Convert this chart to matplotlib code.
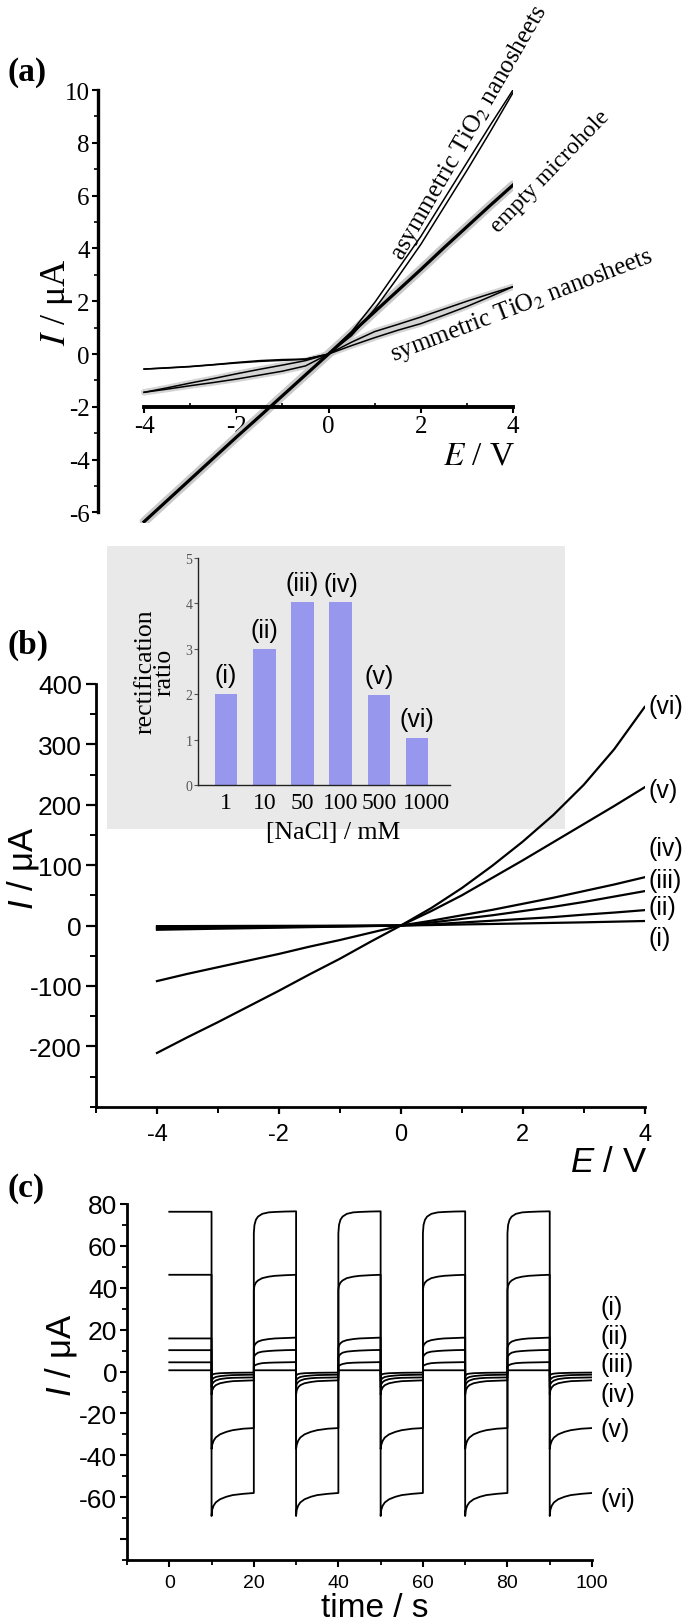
import matplotlib
matplotlib.use("Agg")
import matplotlib.pyplot as plt
from matplotlib.patches import Rectangle
from matplotlib.ticker import MultipleLocator
from matplotlib.transforms import ScaledTranslation

W, H, DPI = 685, 1624, 100
SERIF = "Liberation Serif"
SANS = "Liberation Sans"

plt.rcParams["font.family"] = SANS
plt.rcParams["axes.unicode_minus"] = False
plt.rcParams["mathtext.fontset"] = "custom"
plt.rcParams["mathtext.rm"] = SANS
plt.rcParams["mathtext.it"] = SANS + ":italic"

# ---------------- panel (a): microhole I-E curves ----------------
E_A = [-4, -3.5, -3, -2.5, -2, -1.5, -1, -0.5, 0, 0.5, 1, 1.5, 2, 2.5, 3, 3.5, 4]
I_EMPTY = [-6.35, -5.55, -4.75, -3.95, -3.15, -2.37, -1.58, -0.79, 0,
           0.8, 1.6, 2.4, 3.2, 4.02, 4.82, 5.62, 6.4]
I_ASYM_FWD = [-0.57, -0.52, -0.47, -0.4, -0.32, -0.25, -0.21, -0.19, 0,
              0.85, 1.95, 3.2, 4.45, 5.85, 7.25, 8.65, 10.0]
I_ASYM_REV = [-0.57, -0.53, -0.48, -0.41, -0.34, -0.28, -0.24, -0.2, 0,
              0.7, 1.7, 2.9, 4.15, 5.55, 6.95, 8.4, 9.9]
I_SYM_FWD = [-1.45, -1.28, -1.1, -0.93, -0.75, -0.58, -0.42, -0.25, 0,
             0.45, 0.85, 1.12, 1.4, 1.7, 2.0, 2.28, 2.55]
I_SYM_REV = [-1.45, -1.33, -1.2, -1.08, -0.95, -0.8, -0.65, -0.45, 0,
             0.32, 0.62, 0.9, 1.15, 1.47, 1.8, 2.17, 2.55]

# ---------------- panel (b): I-E curves at six NaCl concentrations ----------------
E_B = [-4, -3.5, -3, -2.5, -2, -1.5, -1, -0.5, 0, 0.5, 1, 1.5, 2, 2.5, 3, 3.5, 4]
I_B_I = [-1, -0.9, -0.75, -0.6, -0.5, -0.4, -0.25, -0.1, 0, 0.8, 1.8, 2.6, 3.5, 4.4, 5.3, 6.4, 7.5]
I_B_II = [-3, -2.6, -2.25, -1.9, -1.5, -1.1, -0.75, -0.4, 0, 2, 5, 8, 11, 14, 18, 21.5, 25.5]
I_B_III = [-5, -4.4, -3.75, -3.1, -2.5, -1.9, -1.25, -0.6, 0, 5, 11, 17, 24, 31, 39, 48, 57]
I_B_IV = [-7, -6.1, -5.2, -4.4, -3.5, -2.6, -1.75, -0.9, 0, 8, 17, 26, 36, 46, 57, 68, 80]
I_B_V = [-92, -80, -69, -58, -47, -35, -24, -12, 0, 24, 50, 79, 108, 138, 168, 198, 229]
I_B_VI = [-211, -185, -160, -134, -108, -81, -55, -27, 0, 29, 62, 99, 139, 183, 233, 292, 362]
CURVE_NAMES = ["(i)", "(ii)", "(iii)", "(iv)", "(v)", "(vi)"]
B_LABEL_Y = [-20, 30, 76, 129, 225, 363]

# inset: rectification ratio vs [NaCl]
NACL_MM = ["1", "10", "50", "100", "500", "1000"]
RATIO = [2.0, 3.0, 4.03, 4.02, 1.98, 1.03]

# ---------------- panel (c): current response to +/- voltage steps ----------------
SEG_DT = [0, 0.15, 0.5, 1, 2, 3.5, 5, 7.5, 10]      # time offsets inside one 10 s step
FIRST_LEVEL = [0.6, 4.4, 10.2, 15.8, 46.2, 76.3]    # first (0-10 s) plateau
POS_I = [0.6, 0.6, 0.6, 0.6, 0.6, 0.6, 0.6, 0.6, 0.6]
POS_II = [2.3, 2.8, 3.2, 3.6, 4.0, 4.2, 4.3, 4.4, 4.5]
POS_III = [6.5, 7.5, 8.3, 9.0, 9.5, 9.8, 10.0, 10.2, 10.3]
POS_IV = [11, 12.5, 13.5, 14.3, 15, 15.5, 15.8, 16, 16.2]
POS_V = [39, 41, 42.5, 43.5, 44.6, 45.3, 45.7, 46, 46.2]
POS_VI = [66, 70, 72.5, 74, 75.3, 76, 76.2, 76.4, 76.5]
NEG_I = [-2.2, -1.6, -1.2, -1.0, -0.8, -0.7, -0.6, -0.55, -0.5]
NEG_II = [-4.6, -3.8, -3.1, -2.6, -2.2, -1.9, -1.7, -1.6, -1.5]
NEG_III = [-7.5, -6, -5, -4.3, -3.6, -3.2, -3.0, -2.9, -2.8]
NEG_IV = [-11, -9, -7.5, -6.5, -5.6, -5.0, -4.6, -4.4, -4.2]
NEG_V = [-37, -35, -33, -31.5, -30, -28.8, -28, -27.3, -27]
NEG_VI = [-69, -66, -64, -62.5, -61, -59.8, -59, -58.4, -58]
C_LABEL_Y = [30.8, 17.1, 3.6, -10.7, -27.4, -60.9]


def rect(x0, x1, y0, y1):
    return [x0 / W, 1 - y1 / H, (x1 - x0) / W, (y1 - y0) / H]


def fpt(x, y):
    return x / W, 1 - y / H


def step_trace(first, pos, neg):
    # five +/- cycles of 20 s, the measured step shape repeated each cycle
    t, y = [0.0, 10.0], [first, first]
    for k in range(5):
        t0 = 10 + 20 * k
        t += [t0 + d for d in SEG_DT]
        y += neg
        if k < 4:
            t += [t0 + 10 + d for d in SEG_DT]
            y += pos
    return t, y


fig = plt.figure(figsize=(W / DPI, H / DPI), dpi=DPI)

# ================= (a) =================
ax = fig.add_axes(rect(98, 513, 91, 524))
ax.set_xlim(-5, 4)
ax.set_ylim(-6.4, 10)
ax.patch.set_alpha(0)
for s in ("top", "right"):
    ax.spines[s].set_visible(False)
ax.spines["left"].set_bounds(-6, 10)
ax.spines["left"].set_linewidth(2.4)
ax.spines["bottom"].set_position(("data", -2))
ax.spines["bottom"].set_bounds(-4, 4)
ax.spines["bottom"].set_linewidth(2.8)
ax.set_xticks([-4, -2, 0, 2, 4])
ax.xaxis.set_minor_locator(MultipleLocator(1))
ax.set_yticks(range(-6, 11, 2))
ax.yaxis.set_minor_locator(MultipleLocator(1))
ax.tick_params(axis="both", which="major", labelsize=18, labelfontfamily=SERIF,
               direction="out", length=4, width=1.5, pad=2)
ax.tick_params(axis="y", which="minor", direction="out", length=3, width=1.2)
ax.tick_params(axis="x", which="minor", direction="in", length=3, width=1.2)

ax.fill_between(E_A, I_SYM_FWD, I_SYM_REV, color="#d9d9d9", lw=0)
for ys in (I_SYM_FWD, I_SYM_REV):
    ax.plot(E_A, ys, color="#d4d4d4", lw=4.5, solid_capstyle="round")
ax.plot(E_A, I_EMPTY, color="#c9c9c9", lw=6.5, solid_capstyle="round")
ax.plot(E_A, I_EMPTY, color="black", lw=2.3)
for ys in (I_SYM_FWD, I_SYM_REV, I_ASYM_FWD, I_ASYM_REV):
    ax.plot(E_A, ys, color="black", lw=1.1)

txt = dict(family=SERIF, fontsize=18, ha="center", va="center",
           rotation_mode="anchor", math_fontfamily="stix")
ax.text(3.05, 8.43, "asymmetric TiO$_2$ nanosheets", rotation=60, **txt)
ax.text(4.8, 6.92, "empty microhole", rotation=46, **dict(txt, fontsize=17))
ax.text(4.19, 1.85, "symmetric TiO$_2$ nanosheets", rotation=21, **txt)

ax.set_ylabel("$I$ / μA", family=SERIF, fontsize=26, math_fontfamily="stix")
ax.yaxis.set_label_coords(*fpt(57, 302), transform=fig.transFigure)
ax.yaxis.label.set_va("center")
ax.set_xlabel("$E$ / V", family=SERIF, fontsize=24, math_fontfamily="stix")
ax.xaxis.set_label_coords(*fpt(515, 456), transform=fig.transFigure)
ax.xaxis.label.set_ha("right")
ax.xaxis.label.set_va("center")

# ================= (b) =================
fig.add_artist(Rectangle(fpt(107, 830), 458 / W, 283.3 / H, transform=fig.transFigure,
                         facecolor="#e9e9e9", edgecolor="none", zorder=-1))

ax = fig.add_axes(rect(96, 644.7, 685, 1107.7))
ax.set_xlim(-5, 4)
ax.set_ylim(-300, 400)
ax.patch.set_alpha(0)
for s in ("top", "right"):
    ax.spines[s].set_visible(False)
for s in ("left", "bottom"):
    ax.spines[s].set_linewidth(2)
ax.set_xticks([-4, -2, 0, 2, 4])
ax.xaxis.set_minor_locator(MultipleLocator(1))
ax.set_yticks([-200, -100, 0, 100, 200, 300, 400])
ax.yaxis.set_minor_locator(MultipleLocator(50))
ax.tick_params(axis="y", which="major", labelsize=19, direction="out", length=7, width=1.6, pad=3)
ax.tick_params(axis="x", which="major", labelsize=17, direction="out", length=5, width=1.6, pad=7)
ax.tick_params(which="minor", direction="out", length=4, width=1.4)

for name, ys, ly in zip(CURVE_NAMES, [I_B_I, I_B_II, I_B_III, I_B_IV, I_B_V, I_B_VI], B_LABEL_Y):
    ax.plot(E_B, ys, color="black", lw=1.6)
    ax.text(4.07, ly, name, fontsize=18, ha="left", va="center", clip_on=False)

ax.set_ylabel("$I$ / μA", fontsize=25)
ax.yaxis.set_label_coords(*fpt(23, 868), transform=fig.transFigure)
ax.yaxis.label.set_va("center")
ax.set_xlabel("$E$ / V", fontsize=25)
ax.xaxis.set_label_coords(*fpt(647, 1163), transform=fig.transFigure)
ax.xaxis.label.set_ha("right")
ax.xaxis.label.set_va("center")

# inset bar chart
axi = fig.add_axes(rect(198, 450, 559, 786))
axi.patch.set_alpha(0)
for s in ("top", "right"):
    axi.spines[s].set_visible(False)
for s in ("left", "bottom"):
    axi.spines[s].set_linewidth(1)
    axi.spines[s].set_color("#222222")
pos = list(range(len(RATIO)))
axi.bar(pos, RATIO, width=0.59, color="#9797ee")
axi.set_xlim(-0.733, 5.86)
axi.set_ylim(0, 5)
axi.set_xticks(pos)
axi.set_xticklabels(NACL_MM)
axi.set_yticks(range(6))
axi.tick_params(axis="x", length=0, pad=5, labelsize=17, labelfontfamily=SERIF)
axi.tick_params(axis="y", length=3, width=0.8, pad=1, labelsize=10, labelfontfamily=SERIF,
                colors="#555555")
# the last concentration label sits a little right of its bar, as in the source
last = axi.get_xticklabels()[-1]
last.set_transform(last.get_transform() + ScaledTranslation(7 / 72, 0, fig.dpi_scale_trans))
for p, v, name in zip(pos, RATIO, CURVE_NAMES):
    axi.annotate(name, (p, v), xytext=(0, 5), textcoords="offset points",
                 ha="center", va="bottom", fontsize=18, annotation_clip=False)
fig.text(*fpt(155, 672), "rectification\nratio", family=SERIF, fontsize=18.5,
         rotation=90, ha="center", va="center", linespacing=0.85, multialignment="center")
fig.text(*fpt(333, 833), "[NaCl] / mM", family=SERIF, fontsize=18.5, ha="center", va="center")

# ================= (c) =================
ax = fig.add_axes(rect(127, 592, 1205, 1561))
ax.set_xlim(-10, 100)
ax.set_ylim(-90, 80)
ax.patch.set_alpha(0)
for s in ("top", "right"):
    ax.spines[s].set_visible(False)
for s in ("left", "bottom"):
    ax.spines[s].set_linewidth(2)
ax.set_xticks(range(0, 101, 20))
ax.xaxis.set_minor_locator(MultipleLocator(10))
ax.set_yticks(range(-80, 81, 20))
ax.set_yticklabels(["" if v == -80 else str(v) for v in range(-80, 81, 20)])
ax.yaxis.set_minor_locator(MultipleLocator(10))
ax.tick_params(axis="y", which="major", labelsize=19, direction="out", length=5, width=1.5, pad=2)
ax.tick_params(axis="x", which="major", labelsize=14, direction="out", length=5, width=1.5, pad=5)
ax.tick_params(which="minor", direction="out", length=3.5, width=1.3)

shapes = [(POS_I, NEG_I), (POS_II, NEG_II), (POS_III, NEG_III),
          (POS_IV, NEG_IV), (POS_V, NEG_V), (POS_VI, NEG_VI)]
for first, (p, n), name, ly in zip(FIRST_LEVEL, shapes, CURVE_NAMES, C_LABEL_Y):
    t, y = step_trace(first, p, n)
    ax.plot(t, y, color="black", lw=1.3)
    ax.text(102, ly, name, fontsize=18, ha="left", va="center", clip_on=False)

ax.set_ylabel("$I$ / μA", fontsize=25)
ax.yaxis.set_label_coords(*fpt(61, 1355), transform=fig.transFigure)
ax.yaxis.label.set_va("center")
ax.set_xlabel("time / s", fontsize=24)
ax.xaxis.set_label_coords(*fpt(375, 1609), transform=fig.transFigure)
ax.xaxis.label.set_va("center")

# panel letters
for letter, (x, y) in zip(["(a)", "(b)", "(c)"], [(27, 73), (28, 645), (26, 1188)]):
    fig.text(*fpt(x, y), letter, family=SERIF, fontsize=24, fontweight="bold",
             ha="center", va="center")

fig.savefig("out.png", dpi=DPI)
